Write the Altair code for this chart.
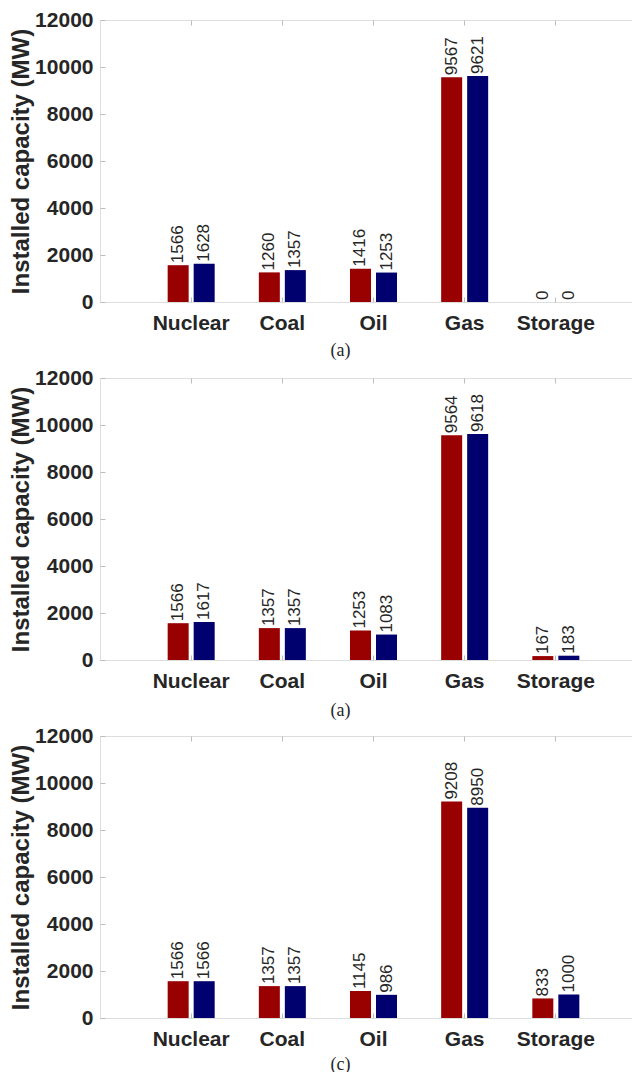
import altair as alt
import pandas as pd

# ---- data ----
categories = ["Nuclear", "Coal", "Oil", "Gas", "Storage"]
series = ["Case 1", "Case 2"]
series_colors = ["#990000", "#00006e"]

panel1_s1 = [1566, 1260, 1416, 9567, 0]
panel1_s2 = [1628, 1357, 1253, 9621, 0]
panel2_s1 = [1566, 1357, 1253, 9564, 167]
panel2_s2 = [1617, 1357, 1083, 9618, 183]
panel3_s1 = [1566, 1357, 1145, 9208, 833]
panel3_s2 = [1566, 1357, 986, 8950, 1000]

captions = ["(a)", "(a)", "(c)"]
caption_pads = [8, 10, 6]
y_ticks = [0, 2000, 4000, 6000, 8000, 10000, 12000]
y_title = "Installed capacity (MW)"

GRAY = "#bdbdbd"
DARK = "#262626"
SANS = "Liberation Sans"
SERIF = "Liberation Serif"

W, H = 547, 282


def make_panel(s1, s2, caption, cap_pad):
    rows = []
    for cat, v1, v2 in zip(categories, s1, s2):
        for s, v in ((series[0], v1), (series[1], v2)):
            rows.append({
                "category": cat,
                "series": s,
                "value": v,
                "label": f"{v:4d}".replace(" ", "\u00a0"),
            })
    df = pd.DataFrame(rows)
    base = alt.Chart(df)

    x_scale = alt.Scale(domain=categories, paddingInner=0, paddingOuter=0.5)
    xo_scale = alt.Scale(domain=series, paddingInner=0.1923, paddingOuter=0.849)
    y_scale = alt.Scale(domain=[0, 12000], nice=False, zero=True)

    bars = base.mark_bar().encode(
        x=alt.X("category:N", sort=categories, scale=x_scale,
                axis=alt.Axis(orient="bottom", offset=-5, tickSize=5, domain=False,
                              tickColor=GRAY, labelAngle=0, labelFont=SANS,
                              labelFontSize=21, labelFontWeight="bold",
                              labelColor=DARK, labelPadding=10, minExtent=0,
                              title=caption, titleFont=SERIF, titleFontSize=18,
                              titleFontWeight="normal", titleColor=DARK,
                              titleX=240, titlePadding=cap_pad)),
        xOffset=alt.XOffset("series:N", sort=series, scale=xo_scale),
        y=alt.Y("value:Q", scale=y_scale,
                axis=alt.Axis(orient="left", values=y_ticks, format="d", offset=-5,
                              tickSize=5, domain=False, grid=False, tickColor=GRAY,
                              labelFont=SANS, labelFontSize=21, labelFontWeight="bold",
                              labelColor=DARK, labelPadding=7, minExtent=0,
                              title=y_title, titleFont=SANS, titleFontSize=24,
                              titleFontWeight="bold", titleColor=DARK, titlePadding=1)),
        color=alt.Color("series:N", sort=series,
                        scale=alt.Scale(domain=series, range=series_colors), legend=None),
    )

    labels = base.mark_text(angle=270, align="left", baseline="middle", dx=2,
                            font=SANS, fontSize=17, color=DARK).encode(
        x=alt.X("category:N", sort=categories, scale=x_scale,
                axis=alt.Axis(orient="top", offset=-5, tickSize=5, domain=False,
                              tickColor=GRAY, labels=False, title=None,
                              labelPadding=0, minExtent=0, maxExtent=0)),
        xOffset=alt.XOffset("series:N", sort=series, scale=xo_scale),
        y=alt.Y("value:Q", scale=y_scale,
                axis=alt.Axis(orient="right", values=y_ticks, offset=-5, tickSize=5,
                              domain=False, grid=False, tickColor=GRAY,
                              labels=False, title=None, labelPadding=0,
                              minExtent=0, maxExtent=0)),
        text="label:N",
    )

    return alt.layer(bars, labels).resolve_axis(x="independent", y="independent").properties(
        width=W, height=H
    )


chart = alt.vconcat(
    *[make_panel(a, b, c, p) for a, b, c, p in zip(
        [panel1_s1, panel2_s1, panel3_s1],
        [panel1_s2, panel2_s2, panel3_s2],
        captions, caption_pads)],
    spacing=76,
    bounds="flush",
).properties(
    padding={"left": 1, "top": 0, "right": -16, "bottom": -2}
).configure_view(
    stroke=GRAY, strokeWidth=1
).configure(background="white")

chart.save("out.html", embed_options={"renderer": "svg", "actions": False})
